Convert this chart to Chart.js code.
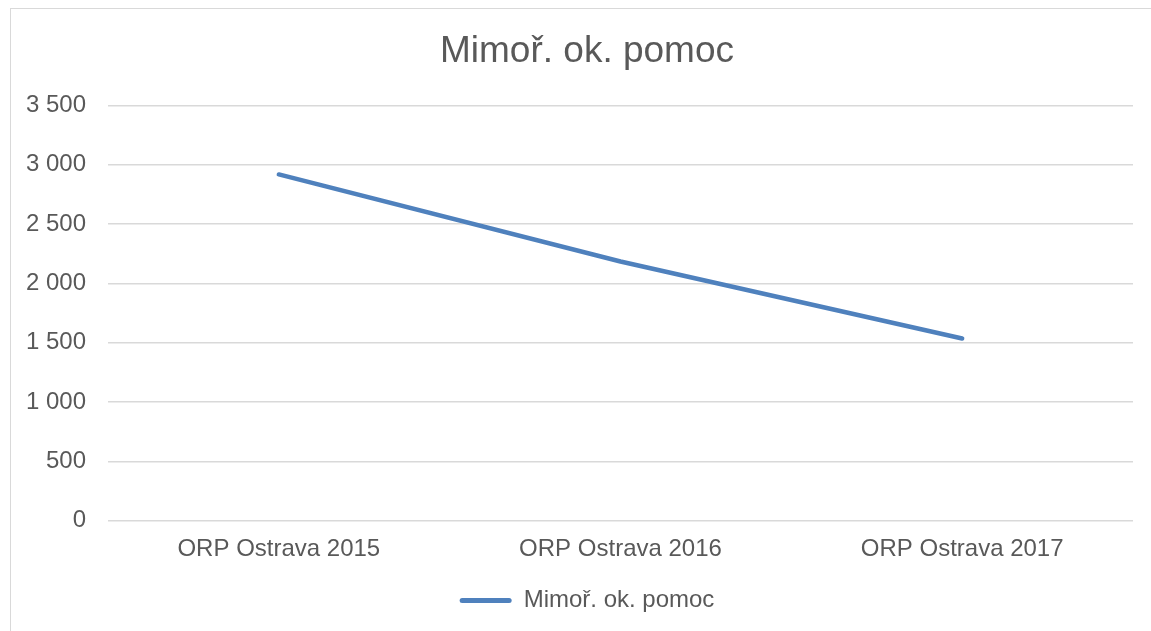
<!DOCTYPE html>
<html>
<head>
<meta charset="utf-8">
<script src="https://cdn.jsdelivr.net/npm/chart.js@4.4.1/dist/chart.umd.min.js"></script>
<style>
  html, body { margin: 0; padding: 0; background: #fff; overflow: hidden; }
  #frame {
    position: absolute; left: 10px; top: 8px;
    width: 1160px; height: 640px;
    border: 1.5px solid #d9d9d9;
  }
  #chart { position: absolute; left: 0; top: 0; }
</style>
</head>
<body>
<div id="frame"></div>
<canvas id="chart" width="1151" height="631"></canvas>
<script>
const categories = ['ORP Ostrava 2015', 'ORP Ostrava 2016', 'ORP Ostrava 2017'];
const seriesName = 'Mimoř. ok. pomoc';
const seriesValues = [2918, 2184, 1535];
const yTicks = [0, 500, 1000, 1500, 2000, 2500, 3000, 3500];

const textColor = '#595959';
const gridColor = '#d9d9d9';
const lineColor = '#4f81bd';
const fontFamily = '"Liberation Sans", Arial, sans-serif';

// space grouping like the Czech Excel output: "3 500"
const fmt = v => String(v).replace(/\B(?=(\d{3})+(?!\d))/g, ' ');

const canvas = document.getElementById('chart');
new Chart(canvas, {
  type: 'line',
  data: {
    labels: categories,
    datasets: [{
      label: seriesName,
      data: seriesValues,
      borderColor: lineColor,
      backgroundColor: lineColor,
      borderWidth: 4.5,
      borderCapStyle: 'round',
      borderJoinStyle: 'round',
      pointRadius: 0,
      tension: 0,
      fill: false
    }]
  },
  options: {
    responsive: false,
    animation: false,
    layout: { padding: { left: 27, right: 4, top: 0, bottom: 8.5 } },
    plugins: {
      title: {
        display: true,
        text: seriesName,
        color: textColor,
        font: { family: fontFamily, size: 37, weight: 'normal' },
        padding: { top: 30, bottom: 31 }
      },
      legend: {
        display: true,
        position: 'bottom',
        labels: {
          color: textColor,
          font: { family: fontFamily, size: 24 },
          boxWidth: 52,
          boxHeight: 5,
          padding: 18.3,
          generateLabels(chart) {
            const items = Chart.defaults.plugins.legend.labels.generateLabels(chart);
            items.forEach(it => {
              it.lineWidth = 0;
              it.fillStyle = lineColor;
              it.borderRadius = 2.5;
            });
            return items;
          }
        }
      },
      tooltip: { enabled: false }
    },
    scales: {
      x: {
        offset: true,
        grid: { display: false },
        border: { display: false },
        ticks: {
          color: textColor,
          font: { family: fontFamily, size: 24 },
          padding: 6.4,
          maxRotation: 0,
          autoSkip: false
        }
      },
      y: {
        min: 0,
        max: 3500,
        afterBuildTicks(scale) {
          scale.ticks = yTicks.map(v => ({ value: v }));
        },
        afterFit(scale) { scale.width = 81; },
        grid: { color: gridColor, lineWidth: 1.5, drawTicks: false },
        border: { display: false },
        ticks: {
          color: textColor,
          font: { family: fontFamily, size: 24 },
          padding: 22,
          callback: v => fmt(v)
        }
      },
      y2: {
        display: true,
        position: 'right',
        grid: { display: false },
        border: { display: false },
        ticks: { display: false },
        afterFit(scale) { scale.width = 14; }
      }
    }
  }
});
</script>
</body>
</html>
